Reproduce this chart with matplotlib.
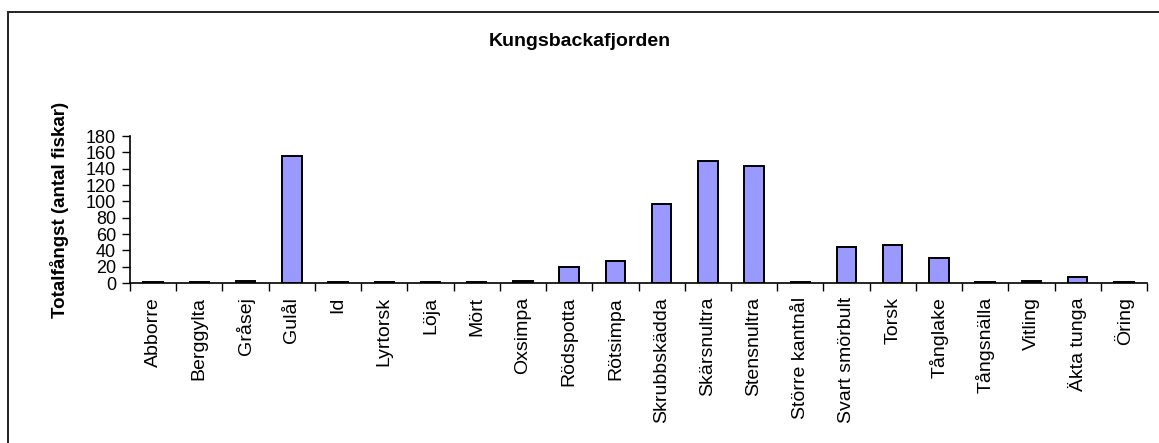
import matplotlib
matplotlib.use("Agg")
import matplotlib.pyplot as plt
import numpy as np
from matplotlib.patches import Rectangle

categories = ["Abborre", "Berggylta", "Gråsej", "Gulål", "Id", "Lyrtorsk", "Löja", "Mört",
              "Oxsimpa", "Rödspotta", "Rötsimpa", "Skrubbskädda", "Skärsnultra", "Stensnultra",
              "Större kantnål", "Svart smörbult", "Torsk", "Tånglake", "Tångsnälla", "Vitling",
              "Äkta tunga", "Öring"]
values = [1, 1, 3, 156, 1, 1, 1, 1, 3, 20, 27, 97, 150, 143, 1, 44, 47, 31, 1, 3, 7, 1]
yticks = [0, 20, 40, 60, 80, 100, 120, 140, 160, 180]

plt.rcParams['font.family'] = ['Liberation Sans', 'DejaVu Sans']

W, H = 1159, 443
fig = plt.figure(figsize=(W / 100, H / 100), dpi=100)
ax = fig.add_axes([130 / W, 1 - 283 / H, (1147 - 130) / W, (283 - 136) / H])

x = np.arange(len(categories))
ax.bar(x, values, width=0.42, color="#9999FF", edgecolor="black", linewidth=1.4, zorder=3)

ax.set_xlim(-0.5, len(categories) - 0.5)
ax.set_ylim(0, 180)
ax.set_yticks(yticks)
ax.set_yticklabels([str(v) for v in yticks], fontsize=13)
ax.tick_params(axis='y', direction='out', length=6, width=1, pad=4)

ax.set_xticks(x)
ax.set_xticklabels(categories, rotation=90, fontsize=14, va='top', ha='center')
ax.tick_params(axis='x', which='major', length=0, pad=10)
ax.set_xticks(np.arange(-0.5, len(categories)), minor=True)
ax.tick_params(axis='x', which='minor', direction='out', length=6, width=1)

for s in ['top', 'right']:
    ax.spines[s].set_visible(False)
for s in ['left', 'bottom']:
    ax.spines[s].set_linewidth(1.2)

ax.set_ylabel("Totalfångst (antal fiskar)", fontsize=13.5, fontweight='bold', labelpad=12)

fig.text(0.5, 1 - 42 / H, "Kungsbackafjorden", ha='center', va='center',
         fontsize=14, fontweight='bold')

frame = Rectangle((7.5 / W, -0.1), 1.2, 1 - 11.7 / H + 0.1, transform=fig.transFigure,
                  fill=False, edgecolor="#222222", linewidth=1.4)
fig.add_artist(frame)

fig.savefig("out.png", dpi=100)
